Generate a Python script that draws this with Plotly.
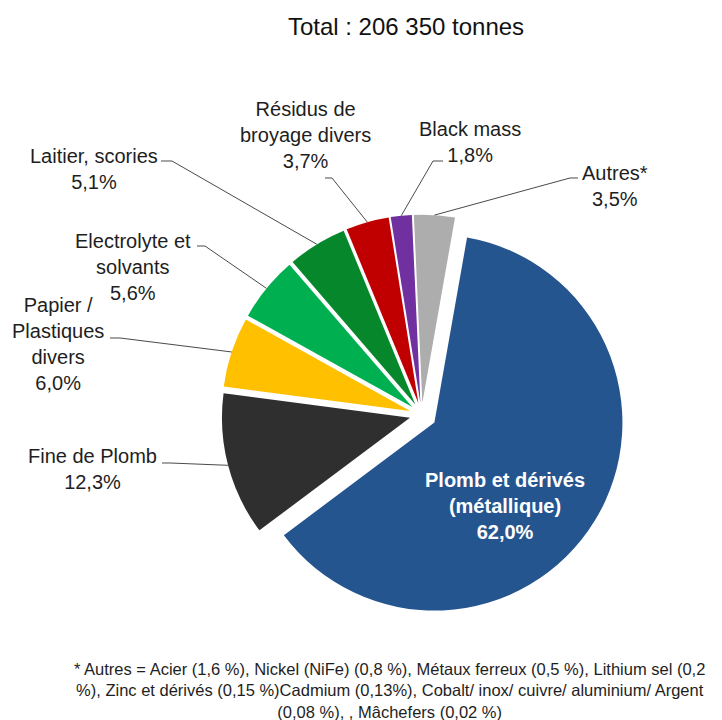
import math
import plotly.graph_objects as go

# page body has an 8px margin: figure drawn at (8, 8) in the window
OFF = 8
W, H = 722 - OFF, 720 - OFF

# ---- data ----
categories = ["Plomb et dérivés (métallique)", "Fine de Plomb", "Papier / Plastiques divers",
              "Electrolyte et solvants", "Laitier, scories", "Résidus de broyage divers",
              "Black mass", "Autres*"]
label_lines = ["Plomb et dérivés<br>(métallique)", "Fine de Plomb", "Papier /<br>Plastiques<br>divers",
               "Electrolyte et<br>solvants", "Laitier, scories", "Résidus de<br>broyage divers",
               "Black mass", "Autres*"]
shares = [62.0, 12.3, 6.0, 5.6, 5.1, 3.7, 1.8, 3.5]
title_text = "Total : 206 350 tonnes"
footnote = ("* Autres = Acier (1,6 %), Nickel (NiFe) (0,8 %), Métaux ferreux (0,5 %), Lithium sel (0,2<br>"
            "%), Zinc et dérivés (0,15 %)Cadmium (0,13%), Cobalt/ inox/ cuivre/ aluminium/ Argent<br>"
            "(0,08 %), , Mâchefers (0,02 %)")

# ---- style / layout ----
colors = ["#25558F", "#2F2F2F", "#FFC000", "#00B050", "#07872B", "#C00000", "#7030A0", "#ADADAD"]
pulls = [0.08, 0.064, 0.064, 0.064, 0.064, 0.064, 0.064, 0.064]
CX, CY, R = 421.6, 414.7, 188.0     # pie centre / radius in window pixels
ROT = 10
FONT = "Liberation Sans"
TXT = "#1E1E1E"

label_pos = [(505, 506), (92, 468.5), (58, 344), (133, 267), (94, 168.5),
             (305, 135), (470, 141.5), (615, 186)]
leader_ends = [None,
               [(170, 463), (162, 463)],
               [(120, 338), (110, 338)],
               [(205, 246), (197, 246)],
               [(172, 161), (161, 161)],
               [(332, 178), (325, 178)],
               [(433, 161), (443, 161)],
               [(570, 178), (578, 178)]]


def px(x):
    return (x - OFF) / W


def py(y):
    return 1 - (y - OFF) / H


def pct(v):
    return f"{v:.1f}".replace(".", ",") + "%"


half = R * (1 + max(pulls))
fig = go.Figure(go.Pie(
    labels=categories, values=shares, sort=False, direction="clockwise", rotation=ROT,
    pull=pulls, marker=dict(colors=colors, line=dict(width=0)),
    textinfo="none", hoverinfo="label+percent", showlegend=False,
    domain=dict(x=[px(CX - half), px(CX + half)], y=[py(CY + half), py(CY - half)]),
))

# leader lines anchored at the mid-angle of each slice's outer arc
total = sum(shares)
cum = 0.0
shapes = []
annotations = []
for i, v in enumerate(shares):
    mid = math.radians(ROT + 360.0 * (cum + v / 2) / total)
    cum += v
    s, c = math.sin(mid), -math.cos(mid)
    ox, oy = CX + pulls[i] * R * s, CY + pulls[i] * R * c
    ax, ay = ox + R * s, oy + R * c
    if leader_ends[i] is not None:
        pts = [(ax, ay)] + leader_ends[i]
        path = "M " + " L ".join(f"{px(x):.5f},{py(y):.5f}" for x, y in pts)
        shapes.append(dict(type="path", xref="paper", yref="paper", path=path,
                           line=dict(color="#4A4A4A", width=1)))
    lx, ly = label_pos[i]
    if i == 0:
        text = f"<b>{label_lines[i]}<br>{pct(v)}</b>"
        font = dict(family=FONT, size=20, color="white")
    else:
        text = f"{label_lines[i]}<br>{pct(v)}"
        font = dict(family=FONT, size=20, color=TXT)
    annotations.append(dict(x=px(lx), y=py(ly), xref="paper", yref="paper", text=text,
                            showarrow=False, xanchor="center", yanchor="middle",
                            align="center", font=font))

annotations.append(dict(x=px(389), y=py(690), xref="paper", yref="paper", text=footnote,
                        showarrow=False, xanchor="center", yanchor="middle", align="center",
                        font=dict(family=FONT, size=16.5, color=TXT)))

fig.update_layout(
    width=W, height=H, margin=dict(l=0, r=0, t=0, b=0),
    paper_bgcolor="white", plot_bgcolor="white",
    title=dict(text=title_text, x=px(406), y=py(27), xanchor="center", yanchor="middle",
               font=dict(family=FONT, size=24, color="#111111")),
    shapes=shapes, annotations=annotations,
)

fig.write_html("out.html")
